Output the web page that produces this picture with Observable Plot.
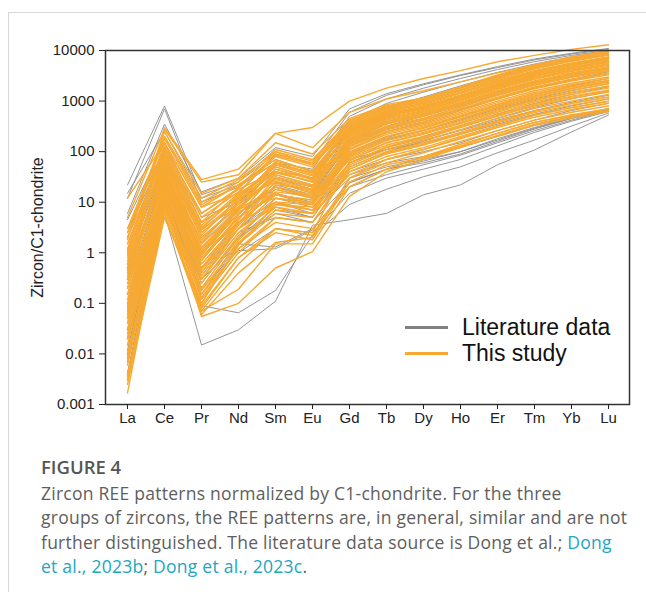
<!DOCTYPE html>
<html><head><meta charset="utf-8">
<script src="https://cdn.jsdelivr.net/npm/d3@7"></script>
<script src="https://cdn.jsdelivr.net/npm/@observablehq/plot@0.6"></script>
<style>
body{margin:0;background:#fff;width:646px;height:592px;position:relative;overflow:hidden;font-family:"Liberation Sans",Arial,sans-serif}
#card{position:absolute;left:8px;top:12px;width:700px;height:700px;border-top:1px solid #d8d8d8;border-left:1px solid #d8d8d8}
#chart{position:absolute;left:0;top:0}
#legend{position:absolute;left:405px;top:314px;font-size:23px;color:#111}
.row{display:flex;align-items:center;height:26px;white-space:nowrap}
.sw{width:43px;height:3px;margin-right:14px}
#cap{position:absolute;left:41px;top:455px;font-family:"Open Sans",Lato,sans-serif;color:#5e5e5e;font-size:17.5px;letter-spacing:0.25px;line-height:24.5px;white-space:nowrap}
#cap b{font-weight:600;color:#555;display:block;font-size:18.5px;letter-spacing:0;margin-bottom:1px}
#cap a{color:#22a6c3;text-decoration:none}
</style></head>
<body>
<div id="card"></div>
<div id="chart"></div>
<div id="legend">
  <div class="row"><div class="sw" style="background:#808080"></div><span>Literature data</span></div>
  <div class="row"><div class="sw" style="background:#f7a932"></div><span>This study</span></div>
</div>
<div id="cap"><b>FIGURE 4</b>Zircon REE patterns normalized by C1-chondrite. For the three<br>groups of zircons, the REE patterns are, in general, similar and are not<br>further distinguished. The literature data source is Dong et al.; <a>Dong</a><br><a>et al., 2023b</a>; <a>Dong et al., 2023c</a>.</div>
<script>
const elements = ["La","Ce","Pr","Nd","Sm","Eu","Gd","Tb","Dy","Ho","Er","Tm","Yb","Lu"];
const yTicks = [0.001, 0.01, 0.1, 1, 10, 100, 1000, 10000];
const yLabel = "Zircon/C1-chondrite";

// Literature data (grey)
const literature = [
  [0.02, 6, 0.015, 0.03, 0.11, 3.5, 4.5, 6, 14, 22, 55, 108, 245, 530],
  [0.004, 9, 0.09, 0.065, 0.18, 2.2, 9, 18, 32, 50, 95, 170, 320, 580],
  [0.02, 12, 0.3, 1.5, 1.3, 3, 20, 35, 55, 85, 150, 260, 420, 650],
  [22, 800, 14, 25, 90, 60, 600, 1300, 2100, 3200, 4600, 6500, 8500, 10500],
  [12, 700, 10, 20, 60, 45, 500, 1100, 1800, 2800, 4200, 6000, 8000, 10000],
  [6, 350, 16, 30, 120, 80, 700, 1400, 2200, 3300, 4800, 6800, 8800, 11000],
  [4.5, 150, 5, 10, 40, 25, 300, 650, 1100, 1800, 3000, 4500, 6500, 8500],
  [2.5, 100, 3, 8, 30, 20, 200, 450, 800, 1300, 2200, 3500, 5200, 7000],
  [0.01, 25, 0.25, 2, 6, 4, 40, 70, 100, 150, 260, 420, 650, 900],
  [0.05, 30, 0.4, 3, 10, 6, 30, 50, 70, 100, 180, 300, 480, 700],
  [0.1, 40, 0.5, 3, 12, 8, 35, 60, 80, 120, 200, 330, 500, 720],
  [0.008, 15, 0.12, 1, 3, 2.5, 15, 30, 45, 70, 130, 240, 400, 620],
  [0.3, 50, 1, 6, 20, 12, 80, 170, 260, 420, 700, 1100, 1600, 2200],
  [1, 80, 2, 9, 30, 18, 130, 280, 420, 680, 1100, 1800, 2600, 3500],
  [0.04, 20, 0.6, 4, 15, 10, 110, 250, 380, 650, 1100, 1800, 2700, 3800],
  [0.15, 35, 0.8, 5, 25, 15, 160, 350, 560, 900, 1500, 2400, 3500, 4700],
  [0.6, 60, 1.5, 8, 35, 22, 230, 480, 750, 1200, 2000, 3100, 4500, 6000],
  [0.02, 18, 0.2, 2, 8, 5, 60, 120, 200, 330, 560, 900, 1350, 1900],
  [0.08, 25, 0.35, 3, 14, 9, 90, 190, 300, 500, 850, 1350, 2000, 2800],
  [0.5, 45, 0.8, 4, 10, 7, 60, 110, 170, 260, 420, 650, 950, 1300],
  [3, 120, 4, 12, 50, 30, 400, 900, 1500, 2400, 3700, 5400, 7500, 9500],
  [1.5, 90, 2.5, 10, 45, 28, 350, 750, 1200, 2000, 3200, 4800, 6800, 9000],
  [0.2, 40, 1, 6, 18, 12, 70, 110, 150, 220, 350, 550, 800, 1100],
  [0.03, 22, 0.3, 2.5, 5, 4, 25, 45, 60, 90, 160, 280, 450, 680],
  [0.06, 28, 0.5, 4, 22, 14, 150, 320, 500, 800, 1350, 2100, 3100, 4200],
  [0.012, 16, 0.15, 1.5, 7, 5, 50, 100, 160, 270, 460, 750, 1100, 1550],
  [0.0042, 14, 0.2, 1.1, 1.2, 2.8, 24, 45, 65, 100, 170, 290, 460, 640],
  [15, 250, 12, 22, 70, 40, 260, 520, 800, 1250, 2000, 3100, 4500, 6000]
];

// This study (orange)
const thisStudy = [
  [0.01, 12, 0.08, 0.8, 2.5, 1.8, 25, 55, 75, 125, 200, 330, 460, 620],
  [0.05, 20, 0.15, 1.2, 4, 3, 20, 45, 80, 140, 230, 380, 520, 700],
  [0.003, 6, 0.06, 0.4, 1.6, 2, 30, 60, 95, 160, 260, 420, 600, 800],
  [0.2, 30, 0.5, 3, 8, 6, 35, 70, 110, 180, 300, 480, 680, 900],
  [0.02, 15, 0.12, 1, 5, 4, 40, 80, 120, 200, 330, 530, 750, 1000],
  [0.5, 45, 1, 4, 10, 7, 45, 90, 135, 220, 370, 590, 830, 1100],
  [0.008, 9, 0.1, 1.5, 6, 5, 50, 100, 150, 240, 400, 640, 900, 1200],
  [0.1, 25, 0.3, 2.5, 9, 8, 55, 110, 165, 270, 450, 720, 1000, 1350],
  [1, 60, 2, 8, 15, 9, 60, 120, 180, 300, 500, 800, 1130, 1500],
  [0.03, 18, 0.2, 2, 12, 10, 70, 135, 200, 330, 550, 880, 1250, 1650],
  [0.004, 7, 0.07, 0.6, 3, 2.5, 65, 150, 220, 360, 600, 960, 1360, 1800],
  [0.3, 40, 0.8, 5, 14, 11, 80, 165, 240, 400, 670, 1060, 1500, 2000],
  [0.06, 22, 0.4, 3.5, 18, 12, 90, 180, 260, 440, 730, 1160, 1650, 2200],
  [2, 90, 4, 12, 25, 15, 100, 200, 290, 480, 800, 1270, 1800, 2400],
  [0.015, 14, 0.25, 2.2, 10, 9, 110, 220, 320, 520, 870, 1380, 1950, 2600],
  [0.4, 55, 1.5, 7, 20, 14, 115, 235, 340, 560, 930, 1480, 2100, 2800],
  [0.08, 28, 0.6, 4, 16, 13, 125, 250, 360, 600, 1000, 1600, 2250, 3000],
  [0.006, 10, 0.15, 1.8, 8, 6, 130, 270, 390, 650, 1100, 1750, 2500, 3300],
  [0.7, 70, 2.5, 10, 28, 18, 140, 300, 430, 700, 1200, 1900, 2700, 3600],
  [0.12, 35, 0.9, 6, 24, 16, 160, 320, 460, 760, 1300, 2050, 2950, 3900],
  [0.04, 24, 0.5, 4.5, 30, 20, 170, 350, 500, 820, 1400, 2200, 3150, 4200],
  [1.5, 120, 6, 18, 40, 25, 180, 370, 530, 880, 1500, 2350, 3400, 4500],
  [0.25, 50, 1.2, 8, 35, 22, 200, 400, 570, 940, 1600, 2500, 3600, 4800],
  [0.009, 16, 0.3, 3, 22, 18, 210, 420, 600, 1000, 1700, 2700, 3850, 5100],
  [0.6, 80, 3, 14, 50, 30, 230, 460, 650, 1080, 1850, 2900, 4150, 5500],
  [0.15, 38, 1.8, 9, 45, 28, 250, 500, 700, 1150, 2000, 3150, 4450, 5900],
  [0.03, 20, 0.7, 5.5, 38, 26, 270, 540, 750, 1250, 2100, 3350, 4750, 6300],
  [1.2, 150, 8, 22, 70, 40, 290, 580, 800, 1300, 2250, 3600, 5100, 6700],
  [0.35, 65, 2.2, 12, 60, 35, 310, 620, 850, 1400, 2400, 3800, 5400, 7100],
  [0.07, 30, 1, 7, 55, 38, 330, 660, 900, 1500, 2550, 4000, 5700, 7500],
  [0.9, 110, 5, 16, 80, 50, 350, 700, 950, 1600, 2700, 4300, 6100, 8000],
  [0.2, 75, 3.5, 15, 90, 60, 380, 740, 1000, 1700, 2850, 4550, 6450, 8500],
  [2.5, 200, 10, 25, 110, 70, 400, 780, 1050, 1800, 3000, 4800, 6800, 9000],
  [0.45, 100, 4, 20, 100, 65, 420, 800, 1100, 1850, 3150, 5000, 7100, 9500],
  [1.8, 250, 15, 30, 150, 90, 450, 850, 1150, 1900, 3300, 5200, 7500, 10000],
  [5, 280, 25, 35, 230, 300, 1000, 1800, 2800, 4000, 6000, 8000, 10500, 13000],
  [0.0017, 10, 0.055, 0.1, 0.5, 1.05, 13, 40, 70, 120, 210, 350, 500, 650],
  [0.003, 15, 0.07, 0.19, 1.5, 1.5, 20, 45, 80, 130, 230, 380, 540, 700],
  [12, 150, 8, 15, 40, 30, 150, 300, 450, 750, 1300, 2100, 3000, 4000],
  [0.0025, 5, 0.09, 0.8, 3, 2.2, 30, 70, 110, 190, 320, 520, 740, 980],
  [3, 200, 12, 28, 100, 55, 300, 600, 900, 1450, 2400, 3800, 5500, 7400],
  [0.5, 300, 28, 45, 230, 120, 600, 1100, 1600, 2400, 3600, 5200, 7200, 9300],
  [0.01, 11, 0.18, 1.6, 7, 6, 60, 125, 190, 310, 520, 840, 1200, 1600],
  [0.15, 32, 0.7, 5, 20, 13, 95, 200, 300, 500, 850, 1350, 1900, 2500],
  [0.025, 17, 0.35, 3, 14, 11, 140, 290, 420, 700, 1150, 1850, 2650, 3500],
  [0.8, 85, 2.8, 11, 45, 30, 220, 440, 630, 1050, 1750, 2800, 4000, 5300],
  [0.05, 26, 0.9, 7, 40, 25, 260, 520, 730, 1200, 2050, 3250, 4600, 6100],
  [0.3, 60, 1.6, 10, 65, 42, 320, 640, 880, 1450, 2450, 3900, 5500, 7300],
  [1.1, 130, 6, 19, 85, 55, 360, 720, 980, 1650, 2750, 4400, 6300, 8300],
  [0.007, 9, 0.13, 1.2, 5, 4, 45, 95, 140, 230, 390, 630, 900, 1200],
  [0.4, 48, 1.3, 6.5, 12, 9, 75, 150, 230, 380, 640, 1020, 1450, 1950],
  [0.02, 19, 0.45, 3.8, 26, 17, 175, 360, 520, 850, 1450, 2300, 3300, 4400],
  [2, 180, 9, 22, 60, 38, 280, 560, 780, 1300, 2200, 3500, 5000, 6600],
  [0.09, 36, 1.1, 7.5, 32, 21, 190, 390, 560, 920, 1550, 2450, 3500, 4700],
  [0.0035, 8, 0.1, 1.4, 9, 7, 85, 180, 270, 450, 760, 1220, 1750, 2350],
  [0.6, 95, 3.2, 13, 55, 33, 240, 490, 690, 1130, 1900, 3050, 4350, 5800]
];

function toRows(series, prefix) {
  const out = [];
  series.forEach((s, i) => s.forEach((v, j) => out.push({id: prefix + i, el: elements[j], v})));
  return out;
}
const litRows = toRows(literature, "L");
const studyRows = toRows(thisStudy, "S");

const chart = Plot.plot({
  width: 646, height: 430,
  marginLeft: 105, marginRight: 17, marginTop: 50, marginBottom: 26,
  style: {fontFamily: "Liberation Sans, Arial, sans-serif", fontSize: "15px", color: "#222", background: "transparent", overflow: "visible"},
  x: {type: "point", domain: elements, padding: 0.5},
  y: {type: "log", domain: [0.001, 10000]},
  marks: [
    Plot.line(litRows, {x: "el", y: "v", z: "id", stroke: "#8a8a8a", strokeWidth: 0.9}),
    Plot.line(studyRows, {x: "el", y: "v", z: "id", stroke: "#f7a932", strokeWidth: 1.4}),
    Plot.frame({stroke: "#333", strokeWidth: 1.5}),
    Plot.axisX({tickSize: 5, tickPadding: 3, label: null, fontSize: 15}),
    Plot.axisY({ticks: yTicks, tickFormat: d => String(d), tickSize: 6, tickPadding: 5, label: null, fontSize: 15}),
    Plot.axisY({ticks: [], tickSize: 0, label: yLabel, labelAnchor: "center", labelOffset: 74, labelArrow: "none", fontSize: 16})
  ]
});
document.getElementById("chart").appendChild(chart);
</script>
</body></html>
